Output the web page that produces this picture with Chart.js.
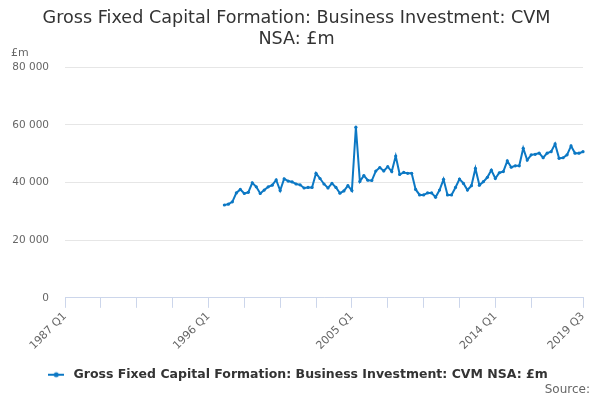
<!DOCTYPE html>
<html>
<head>
<meta charset="utf-8">
<script src="https://cdn.jsdelivr.net/npm/chart.js@4/dist/chart.umd.min.js"></script>
<style>
html,body{margin:0;padding:0;background:#fff;}
#wrap{width:600px;height:400px;}
</style>
</head>
<body>
<div id="wrap"><canvas id="c" width="600" height="400"></canvas></div>
<script>
// ---- data ----
const startYear = 1987;           // first category: 1987 Q1
const endYear = 2019, endQuarter = 3;
const firstDataIndex = 40;        // 1997 Q1
const values = [
  32200, 32500, 33300, 36400, 37600, 36200, 36600, 39900, 38500, 36200,
  37400, 38500, 39100, 40900, 37200, 41300, 40500, 40200, 39500, 39200,
  38100, 38300, 38300, 43200, 41400, 39500, 38100, 39700, 38300, 36300,
  37100, 38900, 37200, 59200, 40400, 42400, 40800, 40700, 44000, 45200,
  44000, 45500, 43800, 49200, 42800, 43500, 43200, 43200, 37600, 35700,
  35700, 36400, 36400, 34900, 37400, 41100, 35700, 35700, 38300, 41200,
  39700, 37400, 38900, 44900, 39100, 40300, 41800, 44300, 41400, 43400,
  43800, 47500, 45300, 45800, 45800, 51900, 47800, 49600, 49800, 50200,
  48600, 50200, 50700, 53400, 48400, 48600, 49600, 52700, 50200, 50200,
  50700
];
const tickIndices = [0, 9, 18, 27, 36, 45, 54, 63, 72, 81, 90, 99, 108, 117, 130];
const labelIndices = [0, 36, 72, 108, 130];
const yTicks = [0, 20000, 40000, 60000, 80000];
const seriesName = 'Gross Fixed Capital Formation: Business Investment: CVM NSA: £m';
const titleLines = ['Gross Fixed Capital Formation: Business Investment: CVM', 'NSA: £m'];
const unitLabel = '£m';
const sourceLabel = 'Source:';

// categories
const categories = [];
for (let y = startYear; y <= endYear; y++) {
  for (let q = 1; q <= 4; q++) {
    if (y === endYear && q > endQuarter) break;
    categories.push(y + ' Q' + q);
  }
}
const seriesData = new Array(firstDataIndex).fill(null).concat(values);

const BLUE = '#0c78c4';
const FONT = "'DejaVu Sans', sans-serif";

// legend symbol: line with dot
const sym = document.createElement('canvas');
sym.width = 16; sym.height = 8;
(function(){
  const g = sym.getContext('2d');
  g.strokeStyle = BLUE; g.lineWidth = 2;
  g.beginPath(); g.moveTo(0, 4); g.lineTo(16, 4); g.stroke();
  g.fillStyle = BLUE; g.beginPath(); g.arc(8, 4, 2.5, 0, Math.PI * 2); g.fill();
})();

const extras = {
  id: 'extras',
  afterDraw(chart) {
    const ctx = chart.ctx;
    ctx.save();
    ctx.fillStyle = '#666';
    ctx.font = "11px " + FONT;
    ctx.textBaseline = 'middle';
    ctx.textAlign = 'left';
    ctx.fillText(unitLabel, 11, 53);
    ctx.font = "12px " + FONT;
    ctx.textAlign = 'right';
    ctx.fillText(sourceLabel, 590, 390);
    ctx.restore();
  }
};

new Chart(document.getElementById('c'), {
  type: 'line',
  data: {
    labels: categories,
    datasets: [{
      label: seriesName,
      data: seriesData,
      borderColor: BLUE,
      backgroundColor: BLUE,
      borderWidth: 2,
      pointRadius: 1.6,
      pointBorderWidth: 0,
      pointBackgroundColor: BLUE,
      pointStyle: 'circle',
      spanGaps: false,
      tension: 0
    }]
  },
  options: {
    responsive: false,
    animation: false,
    devicePixelRatio: 1,
    layout: { padding: { left: 10, right: 17, top: 0, bottom: 9 } },
    plugins: {
      title: {
        display: true,
        text: titleLines,
        color: '#333',
        font: { family: FONT, size: 17.6, weight: 'normal', lineHeight: 1.2 },
        padding: { top: 8, bottom: 17 }
      },
      legend: {
        position: 'bottom',
        labels: {
          usePointStyle: true,
          pointStyle: sym,
          pointStyleWidth: 22,
          color: '#333',
          font: { family: FONT, size: 12.5, weight: 'bold' },
          padding: 14
        }
      },
      tooltip: { enabled: false }
    },
    scales: {
      x: {
        type: 'category',
        offset: false,
        afterBuildTicks(scale) {
          scale.ticks = tickIndices.map(v => ({ value: v }));
        },
        ticks: {
          autoSkip: false,
          maxRotation: 45,
          minRotation: 45,
          color: '#666',
          font: { family: FONT, size: 11 },
          padding: 2,
          callback(value) {
            return labelIndices.includes(value) ? this.getLabelForValue(value) : '';
          }
        },
        grid: {
          drawOnChartArea: false,
          drawTicks: true,
          tickLength: 10,
          color: '#ccd6eb'
        },
        border: { display: true, color: '#ccd6eb', width: 1 }
      },
      y: {
        min: 0,
        max: 80000,
        afterBuildTicks(scale) {
          scale.ticks = yTicks.map(v => ({ value: v }));
        },
        afterFit(scale) { scale.width = 55; },
        ticks: {
          color: '#666',
          font: { family: FONT, size: 10.5 },
          padding: 16,
          callback(v) { return String(v).replace(/\B(?=(\d{3})+(?!\d))/g, ' '); }
        },
        grid: { color: '#e6e6e6', drawTicks: false },
        border: { display: false }
      }
    }
  },
  plugins: [extras]
});
</script>
</body>
</html>
